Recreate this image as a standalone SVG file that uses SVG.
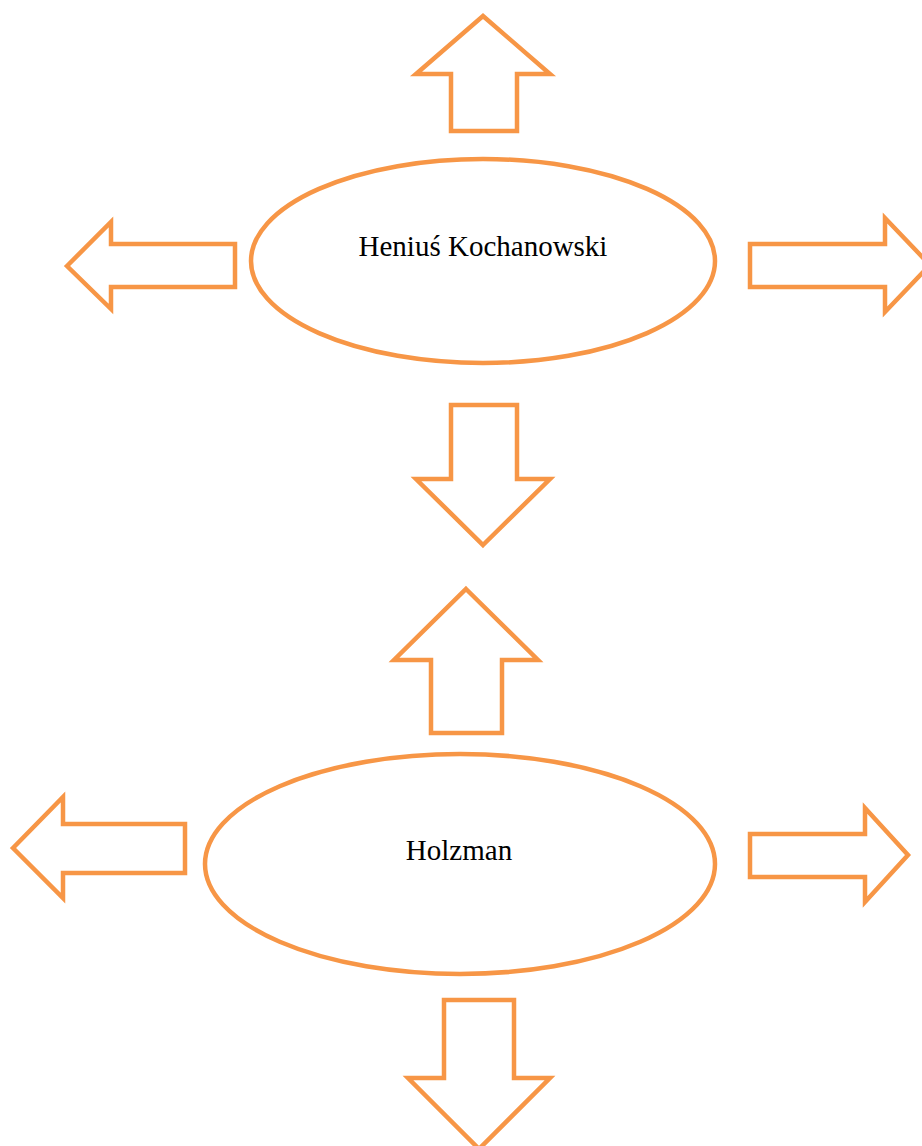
<svg xmlns="http://www.w3.org/2000/svg" width="922" height="1146" viewBox="0 0 922 1146">
<style>
.s{fill:#fff;stroke:#F79646;stroke-width:4.5;stroke-linejoin:miter}
.t{font-family:"Liberation Serif","Times New Roman",serif;font-size:29px;fill:#000;text-anchor:middle}
</style>
<rect width="922" height="1146" fill="#fff"/>
<g id="node-heniu">
<ellipse class="s" cx="483" cy="261" rx="232" ry="102"/>
<text class="t" x="483" y="256">Heniuś Kochanowski</text>
</g>
<g id="node-holzman">
<ellipse class="s" cx="460" cy="864" rx="255" ry="110"/>
<text class="t" x="459" y="860">Holzman</text>
</g>
<g id="connectors">
<polygon class="s" points="483,16 550,74 517,74 517,131 451,131 451,74 416,74"/>
<polygon class="s" points="67,266 111,222 111,244 235,244 235,287 111,287 111,309"/>
<polygon class="s" points="930,265 885,218 885,244 750,244 750,287 885,287 885,312"/>
<polygon class="s" points="483,545 550,479 517,479 517,405 451,405 451,479 416,479"/>
<polygon class="s" points="466,589 538,660 502,660 502,733 431,733 431,660 394,660"/>
<polygon class="s" points="13,848 63,797 63,824 185,824 185,873 63,873 63,898"/>
<polygon class="s" points="908,855 865,808 865,834 750,834 750,877 865,877 865,902"/>
<polygon class="s" points="479,1149 550,1078 514,1078 514,1000 444,1000 444,1078 408,1078"/>
</g>
</svg>
